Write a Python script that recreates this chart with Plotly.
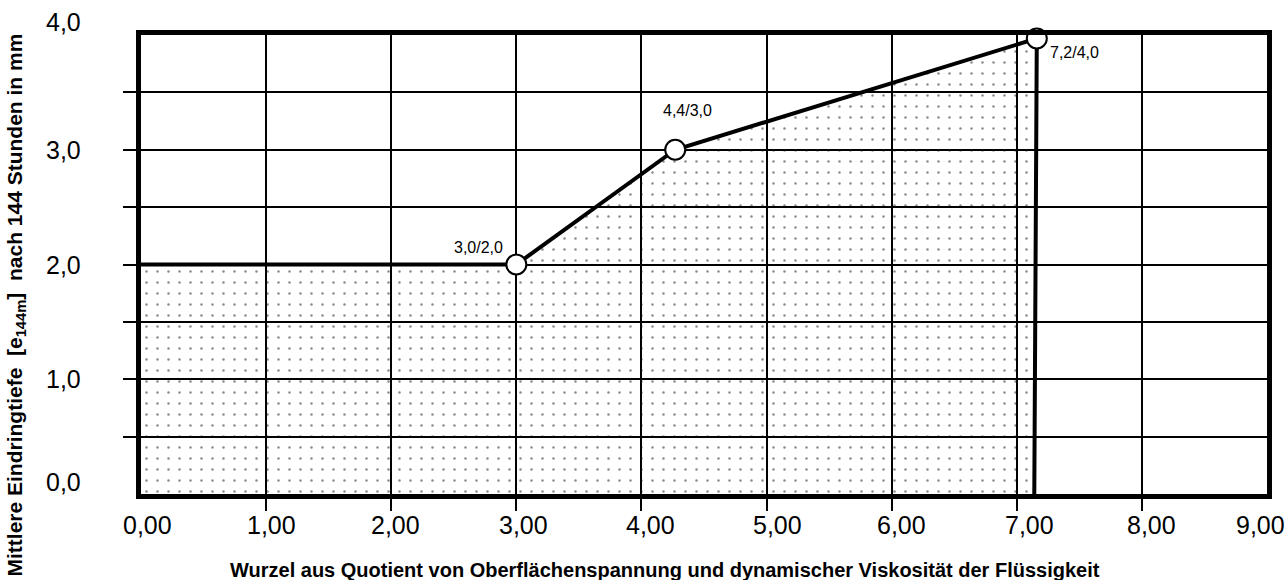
import plotly.graph_objects as go

# ---- data ----
start_x = [0.0]
start_y = [2.0]
pt_x = [3.0, 4.27, 7.16]
pt_y = [2.0, 3.0, 3.97]
drop_x = [7.14]
drop_y = [0.0]
pt_labels = ["3,0/2,0", "4,4/3,0", "7,2/4,0"]

x_label_val = [0, 1, 2, 3, 4, 5, 6, 7, 8, 9]
x_label_txt = ["0,00", "1,00", "2,00", "3,00", "4,00", "5,00", "6,00", "7,00", "8,00", "9,00"]
x_ticks = [1, 2, 3, 4, 5, 6, 7, 8]
y_label_val = [0, 1, 2, 3, 4]
y_label_txt = ["0,0", "1,0", "2,0", "3,0", "4,0"]
y_ticks = [0.5, 1.0, 1.5, 2.0, 2.5, 3.0, 3.5]

x_title = "Wurzel aus Quotient von Oberflächenspannung und dynamischer Viskosität der Flüssigkeit"
y_title = ("Mittlere Eindringtiefe\u00a0\u00a0[e<sub>144m</sub>]\u00a0\u00a0nach 144 Stunden in mm")

# ---- styles / positions (not data) ----
FONT = "Arial, Liberation Sans, sans-serif"
pt_label_shift = [(-38, 17), (12, 39), (38, -14)]
y_label_shift = [12, 0, 0, 0, 13]
x_label_shift = [6, 5, 4, 7, 9, 11, 10, 13, 10, -7]

curve_x = start_x + pt_x + drop_x
curve_y = start_y + pt_y + drop_y

fig = go.Figure()
fig.add_trace(go.Scatter(
    x=curve_x, y=curve_y, mode="lines",
    line=dict(color="black", width=4),
    fill="tozeroy",
    fillcolor="rgba(0,0,0,0)",
    fillpattern=dict(shape=".", size=11, solidity=0.04,
                     fgcolor="#111111", bgcolor="rgba(0,0,0,0)"),
    hoverinfo="skip", showlegend=False,
))
fig.add_trace(go.Scatter(
    x=pt_x, y=pt_y, mode="markers",
    marker=dict(size=20, color="white", line=dict(color="black", width=2)),
    cliponaxis=False, showlegend=False,
))

annotations = []
for xv, yv, txt, (dx, dy) in zip(pt_x, pt_y, pt_labels, pt_label_shift):
    annotations.append(dict(x=xv, y=yv, xref="x", yref="y", text=txt,
                            showarrow=False, xshift=dx, yshift=dy,
                            font=dict(family=FONT, size=16, color="black")))
for yv, txt, dy in zip(y_label_val, y_label_txt, y_label_shift):
    annotations.append(dict(x=0, y=yv, xref="paper", yref="y", text=txt,
                            showarrow=False, xanchor="right", yanchor="middle",
                            xshift=-58, yshift=dy,
                            font=dict(family=FONT, size=25, color="black")))
for xv, txt, dx in zip(x_label_val, x_label_txt, x_label_shift):
    annotations.append(dict(x=xv, y=0, xref="x", yref="paper", text=txt,
                            showarrow=False, xanchor="center", yanchor="middle",
                            xshift=dx, yshift=-31,
                            font=dict(family=FONT, size=25, color="black")))
annotations.append(dict(x=0.5, y=0, xref="paper", yref="paper", text="<b>" + x_title + "</b>",
                        showarrow=False, xanchor="center", yanchor="middle",
                        xshift=-39, yshift=-76,
                        font=dict(family=FONT, size=20, color="black")))
annotations.append(dict(x=0, y=0.5, xref="paper", yref="paper", text="<b>" + y_title + "</b>",
                        showarrow=False, xanchor="center", yanchor="middle", textangle=-90,
                        xshift=-126, yshift=-41,
                        font=dict(family=FONT, size=21, color="black")))

fig.update_layout(
    width=1287, height=580,
    margin=dict(l=141, r=20, t=35, b=86),
    paper_bgcolor="white", plot_bgcolor="white",
    annotations=annotations,
    showlegend=False,
    xaxis=dict(range=[0, 9], tickvals=x_ticks, ticktext=[""] * len(x_ticks),
               ticks="outside", ticklen=12, tickwidth=2, tickcolor="black",
               showgrid=True, gridcolor="black", gridwidth=1.5,
               showline=True, linecolor="black", linewidth=5, mirror=True,
               zeroline=False, fixedrange=True),
    yaxis=dict(range=[0, 4], tickvals=y_ticks, ticktext=[""] * len(y_ticks),
               ticks="outside", ticklen=13, tickwidth=2, tickcolor="black",
               showgrid=True, gridcolor="black", gridwidth=1.5,
               showline=True, linecolor="black", linewidth=5, mirror=True,
               zeroline=False, fixedrange=True),
)

fig.write_html("out.html", config={"displayModeBar": False},
               post_script="document.body.style.margin='0';document.body.style.overflow='hidden';")
